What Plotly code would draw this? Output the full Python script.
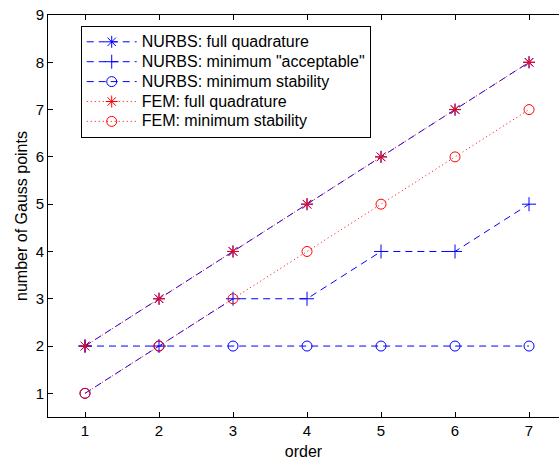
import plotly.graph_objects as go

order = [1, 2, 3, 4, 5, 6, 7]
nurbs_full = [2, 3, 4, 5, 6, 7, 8]
nurbs_acceptable = [2, 2, 3, 3, 4, 4, 5]
nurbs_stability = [1, 2, 2, 2, 2, 2, 2]
fem_full = [2, 3, 4, 5, 6, 7, 8]
fem_stability = [1, 2, 3, 4, 5, 6, 7]

BLUE = "#0000ff"
RED = "#ff0000"
FONT = "Liberation Sans, Arial, sans-serif"

series = [
    ("NURBS: full quadrature", nurbs_full, BLUE, "7px,5px", "asterisk-open"),
    ("NURBS: minimum \"acceptable\"", nurbs_acceptable, BLUE, "7px,5px", "cross-thin-open"),
    ("NURBS: minimum stability", nurbs_stability, BLUE, "7px,5px", "circle-open"),
    ("FEM: full quadrature", fem_full, RED, "1px,3px", "asterisk-open"),
    ("FEM: minimum stability", fem_stability, RED, "1px,3px", "circle-open"),
]

fig = go.Figure()
for name, ys, color, dash, symbol in series:
    fig.add_trace(go.Scatter(
        x=order, y=ys, mode="lines+markers",
        # compact legend rows with larger label text
        name='<span style="font-size:16px">%s</span>' % name,
        line=dict(color=color, width=1, dash=dash),
        marker=dict(symbol=symbol, size=10, color=color,
                    line=dict(color=color, width=1)),
    ))

fig.update_layout(
    width=559, height=460,
    margin=dict(l=48, r=0, t=15, b=43),
    paper_bgcolor="white", plot_bgcolor="white",
    font=dict(family=FONT, size=15, color="black"),
    showlegend=True,
    legend=dict(
        x=0.064, y=0.973, xanchor="left", yanchor="top",
        bgcolor="white", bordercolor="black", borderwidth=1,
        font=dict(family=FONT, size=13, color="black"),
        tracegroupgap=0, itemwidth=50,
    ),
    xaxis=dict(
        range=[0.5, 7.405], tickvals=order,
        showline=True, linecolor="black", linewidth=1, mirror="ticks",
        ticks="inside", ticklen=5, tickcolor="black",
        showgrid=False, zeroline=False,
        title=dict(text="order", font=dict(size=16), standoff=7),
        tickfont=dict(size=15),
    ),
    yaxis=dict(
        range=[0.5, 9], tickvals=list(range(1, 10)),
        showline=True, linecolor="black", linewidth=1, mirror=False,
        ticks="inside", ticklen=5, tickcolor="black",
        showgrid=False, zeroline=False,
        title=dict(text="number of Gauss points", font=dict(size=16), standoff=4),
        tickfont=dict(size=15),
    ),
)

fig.write_html("out.html")
